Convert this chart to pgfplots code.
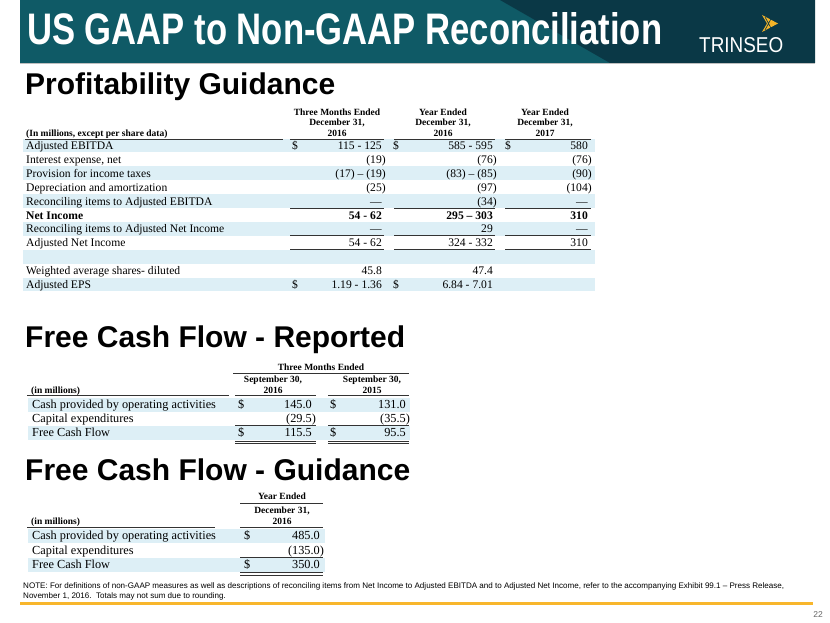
\documentclass[border=0pt]{standalone}
\usepackage{fontspec}
\usepackage{graphicx}
\usepackage{pgfplots}
\pgfplotsset{compat=1.18}
\setmainfont{Liberation Serif}
\newfontfamily\arial{Liberation Sans}

\definecolor{bandL}{RGB}{15,90,102}
\definecolor{bandR}{RGB}{10,56,70}
\definecolor{rowblue}{RGB}{221,239,246}
\definecolor{gold}{RGB}{244,180,40}
\definecolor{rule}{RGB}{248,182,44}

% text helpers, positions in slide pixels (y from the top)
\newcommand\Lt[4][]{\node[anchor=base west,inner sep=0,font=#1] at (axis cs:#2,#3) {#4};}
\newcommand\Rt[4][]{\node[anchor=base east,inner sep=0,font=#1] at (axis cs:#2,#3) {#4};}
\newcommand\Ct[4][]{\node[anchor=base,inner sep=0,font=#1] at (axis cs:#2,#3) {#4};}
\newcommand\hl[3]{\draw[black!80,line width=0.7pt] (axis cs:#1,#3) -- (axis cs:#2,#3);}
\newcommand\band[4]{\fill[rowblue] (axis cs:#1,#3) rectangle (axis cs:#2,#4);}
\newcommand\p[1]{(#1\rlap{)}}

\newcommand\fa{\fontsize{11.6}{12}\selectfont}
\newcommand\fh{\fontsize{9.5}{10}\selectfont\bfseries}
\newcommand\fb{\fontsize{12.3}{13}\selectfont}
\newcommand\fs{\fontsize{30}{30}\selectfont\arial\bfseries}
\newcommand\fn{\arial\fontsize{8.05}{8}\selectfont}

\begin{document}
\begin{tikzpicture}
\begin{axis}[width=830pt, height=623pt, scale only axis,
  xmin=0, xmax=830, ymin=0, ymax=623, y dir=reverse,
  hide axis, clip=false]
\fill[white] (axis cs:0,0) rectangle (axis cs:830,623);

% header band
\fill[bandL] (axis cs:20,0) rectangle (axis cs:815,63);
\fill[bandR] (axis cs:500,0) -- (axis cs:815,0) -- (axis cs:815,63) -- (axis cs:610,63) -- cycle;
\fill[black!25] (axis cs:20,63) rectangle (axis cs:815,64.5);
\node[anchor=base west,inner sep=0,text=white] at (axis cs:27,45)
  {\resizebox{635pt}{32pt}{\arial\bfseries US GAAP to Non-GAAP Reconciliation}};
\node[anchor=base west,inner sep=0,text=white] at (axis cs:699,53)
  {\resizebox{84pt}{15pt}{\arial TRINSEO}};
\fill[gold] (axis cs:762,15) -- (axis cs:778,23.5) -- (axis cs:762,32) -- (axis cs:767,23.5) -- cycle;
\draw[bandR,line width=0.6pt] (axis cs:765,17) -- (axis cs:772,30) (axis cs:765,30) -- (axis cs:772,17);

% section headings
\Lt[\fs]{25}{95}{Profitability Guidance}
\Lt[\fs]{25}{347}{Free Cash Flow - Reported}
\Lt[\fs]{25}{480}{Free Cash Flow - Guidance}

% ---- table 1: profitability guidance ----
\band{23}{595}{138.55}{152.45}
\band{23}{595}{166.35}{180.25}
\band{23}{595}{194.15}{208.05}
\band{23}{595}{221.95}{235.85}
\band{23}{595}{249.75}{263.65}
\band{23}{595}{277.55}{291.45}
\Ct[\fh]{337}{115.5}{Three Months Ended}
\Ct[\fh]{337}{125.5}{December 31,}
\Ct[\fh]{337}{136.5}{2016}
\Ct[\fh]{443}{115.5}{Year Ended}
\Ct[\fh]{443}{125.5}{December 31,}
\Ct[\fh]{443}{136.5}{2016}
\Ct[\fh]{545}{115.5}{Year Ended}
\Ct[\fh]{545}{125.5}{December 31,}
\Ct[\fh]{545}{136.5}{2017}
\Lt[\fh]{26}{136.5}{(In millions, except per share data)}
\hl{25}{283}{139}\hl{290}{384}{139}\hl{394}{495}{139}\hl{505}{591}{139}

\Lt[\fa]{26}{149.5}{Adjusted EBITDA}
\Lt[\fa]{26}{163.4}{Interest expense, net}
\Lt[\fa]{26}{177.3}{Provision for income taxes}
\Lt[\fa]{26}{191.2}{Depreciation and amortization}
\Lt[\fa]{26}{205.1}{Reconciling items to Adjusted EBITDA}
\Lt[\fa\bfseries]{26}{219.0}{Net Income}
\Lt[\fa]{26}{232.9}{Reconciling items to Adjusted Net Income}
\Lt[\fa]{26}{246.8}{Adjusted Net Income}
\Lt[\fa]{26}{274.6}{Weighted average shares- diluted}
\Lt[\fa]{26}{288.5}{Adjusted EPS}

\Lt[\fa]{292}{149.5}{\$}\Lt[\fa]{393}{149.5}{\$}\Lt[\fa]{505}{149.5}{\$}
\Lt[\fa]{292}{288.5}{\$}\Lt[\fa]{393}{288.5}{\$}

\Rt[\fa]{382}{149.5}{115 - 125}
\Rt[\fa]{382}{163.4}{\p{19}}
\Rt[\fa]{382}{177.3}{(17) -- \p{19}}
\Rt[\fa]{382}{191.2}{\p{25}}
\Rt[\fa]{382}{205.1}{---}
\Rt[\fa\bfseries]{382}{219.0}{54 - 62}
\Rt[\fa]{382}{232.9}{---}
\Rt[\fa]{382}{246.8}{54 - 62}
\Rt[\fa]{382}{274.6}{45.8}
\Rt[\fa]{382}{288.5}{1.19 - 1.36}

\Rt[\fa]{493}{149.5}{585 - 595}
\Rt[\fa]{493}{163.4}{\p{76}}
\Rt[\fa]{493}{177.3}{(83) -- \p{85}}
\Rt[\fa]{493}{191.2}{\p{97}}
\Rt[\fa]{493}{205.1}{\p{34}}
\Rt[\fa\bfseries]{493}{219.0}{295 -- 303}
\Rt[\fa]{493}{232.9}{29}
\Rt[\fa]{493}{246.8}{324 - 332}
\Rt[\fa]{493}{274.6}{47.4}
\Rt[\fa]{493}{288.5}{6.84 - 7.01}

\Rt[\fa]{588}{149.5}{580}
\Rt[\fa]{588}{163.4}{\p{76}}
\Rt[\fa]{588}{177.3}{\p{90}}
\Rt[\fa]{588}{191.2}{\p{104}}
\Rt[\fa]{588}{205.1}{---}
\Rt[\fa\bfseries]{588}{219.0}{310}
\Rt[\fa]{588}{232.9}{---}
\Rt[\fa]{588}{246.8}{310}

\hl{290}{384}{208}\hl{394}{495}{208}\hl{505}{591}{208}
\hl{290}{384}{235.8}\hl{394}{495}{235.8}\hl{505}{591}{235.8}
\hl{290}{384}{249.7}\hl{394}{495}{249.7}\hl{505}{591}{249.7}

% ---- table 2: free cash flow reported ----
\band{28}{410}{397.5}{411.5}
\band{28}{410}{425.5}{439.5}
\Ct[\fh]{321}{370.5}{Three Months Ended}
\hl{233}{409}{373.5}
\Ct[\fh]{273}{382.5}{September 30,}
\Ct[\fh]{273}{393}{2016}
\Ct[\fh]{372}{382.5}{September 30,}
\Ct[\fh]{372}{393}{2015}
\Lt[\fh]{31}{393}{(in millions)}
\hl{27}{229}{395.5}\hl{235}{316}{395.5}\hl{328}{409}{395.5}

\Lt[\fb]{32}{408.7}{Cash provided by operating activities}
\Lt[\fb]{32}{422.7}{Capital expenditures}
\Lt[\fb]{32}{436.7}{Free Cash Flow}
\Lt[\fb]{238}{408.7}{\$}\Lt[\fb]{330}{408.7}{\$}
\Lt[\fb]{238}{436.7}{\$}\Lt[\fb]{330}{436.7}{\$}
\Rt[\fb]{312}{408.7}{145.0}
\Rt[\fb]{312}{422.7}{\p{29.5}}
\Rt[\fb]{312}{436.7}{115.5}
\Rt[\fb]{406}{408.7}{131.0}
\Rt[\fb]{406}{422.7}{\p{35.5}}
\Rt[\fb]{406}{436.7}{95.5}
\hl{235}{316}{425.5}\hl{328}{409}{425.5}
\hl{235}{316}{441}\hl{328}{409}{441}
\hl{235}{316}{443.5}\hl{328}{409}{443.5}

% ---- table 3: free cash flow guidance ----
\band{28}{325}{528.5}{542.5}
\band{28}{325}{557.5}{571.5}
\Ct[\fh]{282}{499}{Year Ended}
\hl{240}{323}{503}
\Ct[\fh]{282}{513}{December 31,}
\Ct[\fh]{282}{524}{2016}
\Lt[\fh]{31}{524}{(in millions)}
\hl{27}{215}{527}\hl{240}{323}{527}

\Lt[\fb]{32}{539.5}{Cash provided by operating activities}
\Lt[\fb]{32}{554}{Capital expenditures}
\Lt[\fb]{32}{568.5}{Free Cash Flow}
\Lt[\fb]{244}{539.5}{\$}\Lt[\fb]{244}{568.5}{\$}
\Rt[\fb]{320}{539.5}{485.0}
\Rt[\fb]{320}{554}{\p{135.0}}
\Rt[\fb]{320}{568.5}{350.0}
\hl{240}{323}{557.5}
\hl{240}{323}{572.5}\hl{240}{323}{575}

% ---- note and footer ----
\Lt[\fn]{23}{588}{NOTE: For definitions of non-GAAP measures as well as descriptions of reconciling items from Net Income to Adjusted EBITDA and to Adjusted Net Income, refer to the accompanying Exhibit 99.1 – Press Release,}
\Lt[\fn]{23}{598.5}{November 1, 2016.\ \ Totals may not sum due to rounding.}
\fill[rule] (axis cs:20,602) rectangle (axis cs:813,604.5);
\Rt[\arial\fontsize{8.5}{9}\selectfont\color{black!60}]{823}{617}{22}
\end{axis}
\end{tikzpicture}
\end{document}
